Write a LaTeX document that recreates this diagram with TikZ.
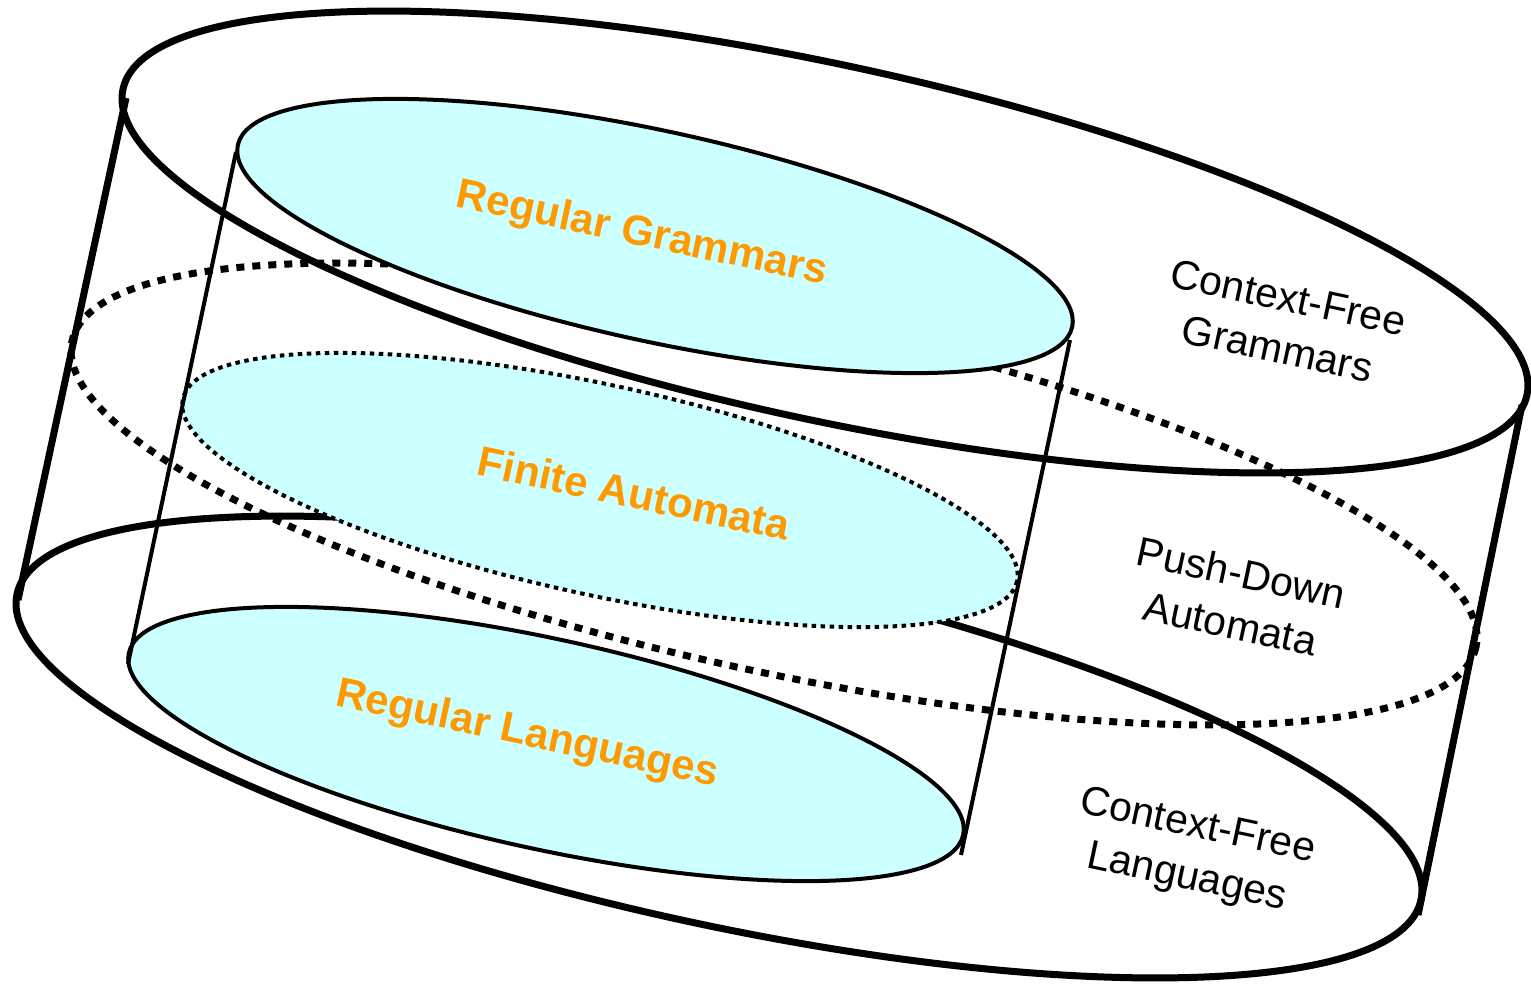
\documentclass[tikz,border=0pt]{standalone}
\usepackage{fontspec}
\setmainfont{Liberation Sans}
\definecolor{cyanfill}{HTML}{CCFFFF}
\definecolor{orangetxt}{HTML}{FF9900}
\begin{document}
\begin{tikzpicture}[x=1pt,y=-1pt,
  thickline/.style={line width=7pt},
  thinline/.style={line width=4pt},
  pdadots/.style={line width=7pt, dash pattern=on 8pt off 8pt},
  fadots/.style={line width=4pt, dash pattern=on 4.5pt off 4.5pt},
  setfill/.style={fill=cyanfill},
  innerlabel/.style={text=orangetxt, font=\fontsize{42}{48}\selectfont\bfseries, rotate=-12, inner sep=0pt},
  outerlabel/.style={font=\fontsize{41}{52}\selectfont, rotate=-12, align=center, inner sep=0pt}]
\useasboundingbox (0,0) rectangle (1531,983);

% outer cylinder: top and bottom ellipses
\draw[thickline, rotate around={-12.3:(825,242)}] (825,242) ellipse [x radius=718.5, y radius=177];
\draw[thickline, rotate around={-12.3:(719,747)}] (719,747) ellipse [x radius=718.5, y radius=177];
% push-down automata (dotted middle section)
\draw[pdadots, rotate around={-12.3:(774,494)}] (774,494) ellipse [x radius=718.5, y radius=177];

% outer side lines
\coordinate (otL) at (126,98);
\coordinate (obL) at (18,600);
\coordinate (otR) at (1522,405);
\coordinate (obR) at (1418,915);
\draw[thickline] (otL) -- (obL);
\draw[thickline] (otR) -- (obR);

% inner cylinder
\filldraw[setfill, fadots, rotate around={-12.3:(600,490)}] (600,490) ellipse [x radius=427, y radius=105];
\filldraw[setfill, thinline, rotate around={-12.3:(655,236)}] (655,236) ellipse [x radius=427, y radius=105];
\filldraw[setfill, thinline, rotate around={-12.3:(546,744)}] (546,744) ellipse [x radius=427, y radius=105];

\coordinate (itL) at (236,152);
\coordinate (ibL) at (128,664);
\coordinate (itR) at (1070,340);
\coordinate (ibR) at (961,855);
\draw[thinline] (itL) -- (ibL);
\draw[thinline] (itR) -- (ibR);

% labels
\node[innerlabel] (rg) at (642,235) {Regular Grammars};
\node[innerlabel] (fa) at (634,493) {Finite Automata};
\node[innerlabel] (rl) at (527,735) {Regular Languages};
\node[outerlabel] (cfg) at (1283,323) {Context-Free\\Grammars};
\node[outerlabel] (pda) at (1236,598) {Push-Down\\Automata};
\node[outerlabel] (cfl) at (1192,853) {Context-Free\\Languages};
\end{tikzpicture}
\end{document}
